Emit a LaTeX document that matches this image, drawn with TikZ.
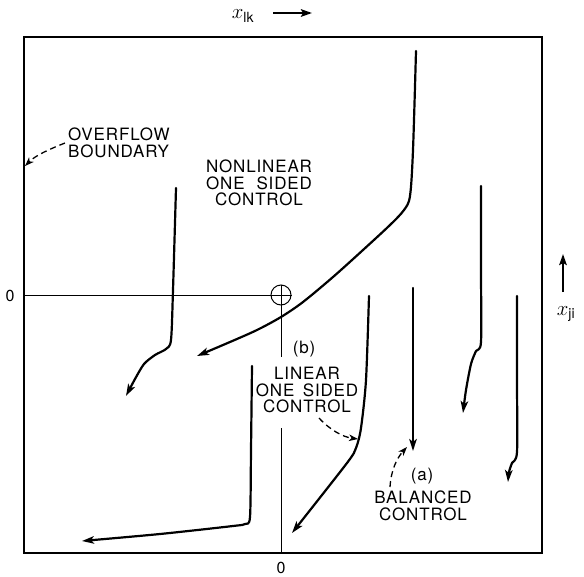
\documentclass[tikz,border=0pt]{standalone}
\usepackage{fontspec}
\setmainfont{TeX Gyre Heros}
\newfontfamily\lettered[LetterSpace=5]{TeX Gyre Heros}
\usetikzlibrary{arrows.meta}
\tikzset{
  frame/.style={line width=1.7pt},
  axisline/.style={line width=1pt},
  traj/.style={line width=2.2pt, line cap=round, line join=round, -{Stealth[length=12pt,width=7.5pt,inset=3pt]}},
  pointer/.style={line width=1.3pt, dash pattern=on 6pt off 4pt, -{Stealth[length=9pt,width=6.5pt,inset=2.5pt]}},
  lbl/.style={font=\lettered\fontsize{17}{16.5}\selectfont, align=center, inner sep=0pt},
  zero/.style={font=\fontsize{16}{16}\selectfont, inner sep=0pt},
}
\begin{document}
\begin{tikzpicture}[x=1pt,y=-1pt]
\useasboundingbox (0,0) rectangle (584,576);
% frame
\draw[frame] (24,37) rectangle (542,553);
% axis labels
\node[inner sep=0pt] (xlk) at (243,16) {\fontsize{20}{20}\selectfont$x_{\mathrm{lk}}$};
\coordinate (xlkA) at (273,13);
\coordinate (xlkB) at (312,13);
\draw[line width=2.2pt, -{Stealth[length=11pt,width=7.5pt,inset=2pt]}] (xlkA) -- (xlkB);
\coordinate (xjiA) at (563,292);
\coordinate (xjiB) at (563,254);
\draw[line width=2.2pt, -{Stealth[length=11pt,width=7.5pt,inset=2pt]}] (xjiA) -- (xjiB);
\node[inner sep=0pt] (xji) at (566,314) {\fontsize{20}{20}\selectfont$x_{\mathrm{ji}}$};
% zeros
\node[zero] (zl) at (10,296) {0};
\node[zero] (zb) at (281,568) {0};
% origin marker
\node[draw, circle, line width=1pt, minimum size=20pt, inner sep=0pt] (orig) at (281,295) {};
\draw[line width=1pt] (orig.north) -- (orig.south) (orig.west) -- (orig.east);
\coordinate (hl) at (24,295);
\draw[axisline] (hl) -- (orig.west);
\coordinate (vl1) at (281,357);
\draw[axisline] (orig.south) -- (vl1);
\coordinate (vl2) at (281,428);
\coordinate (vl3) at (281,553);
\draw[axisline] (vl2) -- (vl3);
% trajectories
\draw[traj] plot[smooth, tension=0.5] coordinates {(416,51) (413,150) (410,196) (404,210) (390,225) (363,250) (333,277) (303,302) (281,317) (257,330) (230,342) (197,356)};
\draw[traj] plot[smooth, tension=0.45] coordinates {(176,188) (173,290) (171,340) (166,349) (155,355) (144,364) (135,379) (126,396)};
\draw[traj] plot[smooth, tension=0.45] coordinates {(252,366) (251,450) (250,517) (245,524) (233,526) (160,534) (82,541)};
\draw[traj] plot[smooth, tension=0.45] coordinates {(369,296) (366,380) (361,428) (356,448) (347,463) (292,533)};
\draw[traj] (413,288) -- (413,451);
\draw[traj] plot[smooth, tension=0.45] coordinates {(481,186) (481,270) (481,342) (476,351) (471,364) (466,390) (463,413)};
\draw[traj] plot[smooth, tension=0.45] coordinates {(517,296) (517,380) (517,452) (512,463) (509,472) (508,482)};
% labels
\node[lbl, align=left, anchor=west] (ovf) at (68,143) {OVERFLOW\\BOUNDARY};
\draw[pointer] (65,143) .. controls (50,149) and (36,155) .. (25,166);
\node[lbl] (nl) at (259,183) {NONLINEAR\\ONE\hspace{0.7em}SIDED\\CONTROL};
\node[lbl] (bl) at (304,349) {(b)};
\node[lbl] (lin) at (307,390) {LINEAR\\ONE\hspace{0.5em}SIDED\\CONTROL};
\draw[pointer] (319,418) .. controls (330,430) and (343,437) .. (358,439);
\node[lbl] (al) at (422,476) {(a)};
\node[lbl] (bal) at (423,506) {BALANCED\\CONTROL};
\draw[pointer] (390,487) .. controls (391,470) and (397,458) .. (407,447);
\end{tikzpicture}
\end{document}
